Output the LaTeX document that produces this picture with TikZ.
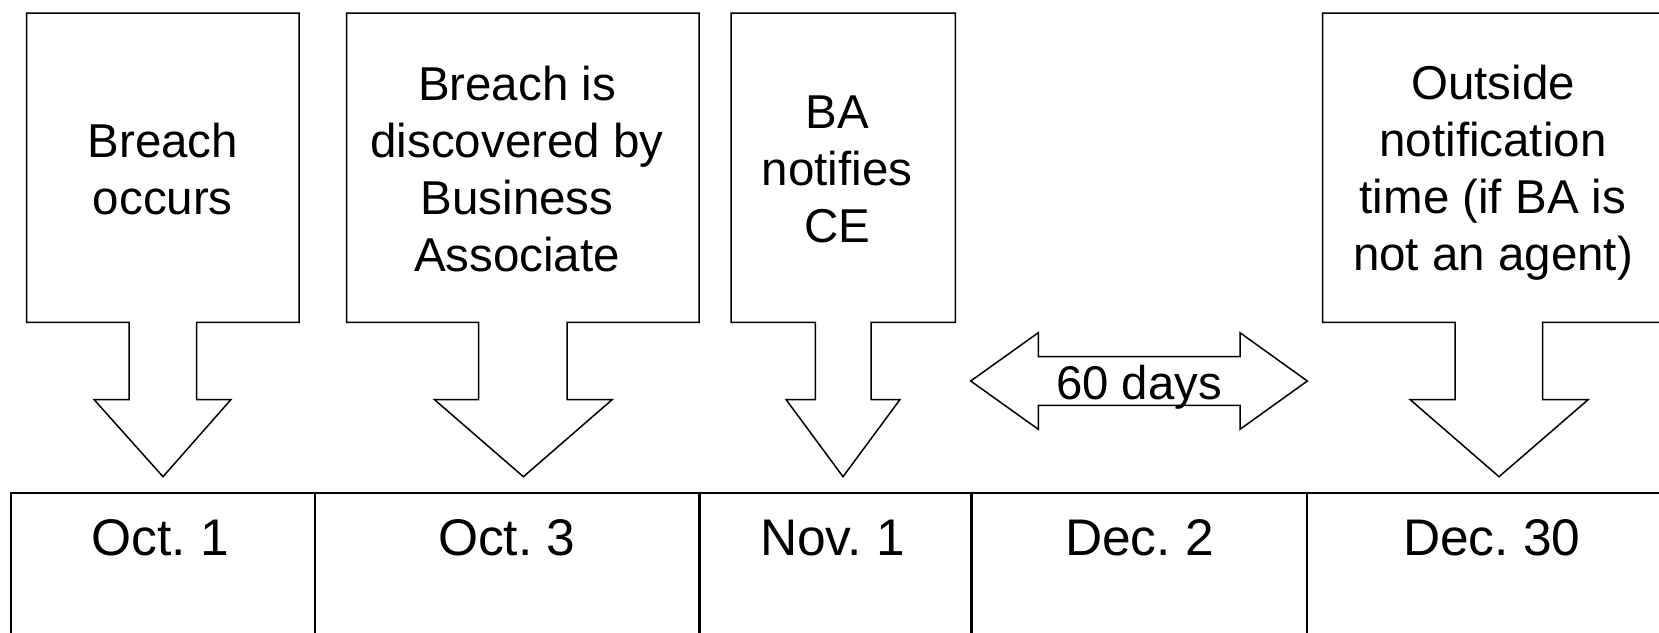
\documentclass[tikz,border=0pt]{standalone}
\usepackage{fontspec}
\setmainfont{Liberation Sans}
\frenchspacing
\begin{document}
\begin{tikzpicture}[x=1pt,y=-1pt,
  shapeline/.style={draw=black,line width=1.5pt,fill=white,line join=miter},
  cellline/.style={draw=black,line width=2.4pt},
  boxtext/.style={align=center,font=\fontsize{47.5}{57}\selectfont,inner sep=0pt,anchor=base},
  datetext/.style={font=\fontsize{51.5}{60}\selectfont,inner sep=0pt,anchor=base},
  daystext/.style={font=\fontsize{47.3}{57}\selectfont,inner sep=0pt,anchor=base}]
\useasboundingbox (0,0) rectangle (1659,632);
\clip (0,0) rectangle (1659,632);

% callout 1
\draw[shapeline] (26.7,13) -- (299,13) -- (299,322.3) -- (196.7,322.3) -- (196.7,399.5) -- (231,399.5)
  -- (163,476.7) coordinate (tip1) -- (94,399.5) -- (129,399.5) -- (129,322.3) -- (26.7,322.3) -- cycle;
\node[boxtext] (t1) at (162.8,214) {Breach\\occurs};

% callout 2
\draw[shapeline] (346.7,13) -- (699,13) -- (699,322.3) -- (567,322.3) -- (567,399.5) -- (612.3,399.5)
  -- (523.4,476.7) coordinate (tip2) -- (434.3,399.5) -- (478.7,399.5) -- (478.7,322.3) -- (346.7,322.3) -- cycle;
\node[boxtext] (t2) at (517,271) {Breach is\\discovered by\\Business\\Associate};

% callout 3
\draw[shapeline] (731,13) -- (955.3,13) -- (955.3,322.3) -- (871,322.3) -- (871,399.5) -- (900,399.5)
  -- (843,476.7) coordinate (tip3) -- (786,399.5) -- (815.3,399.5) -- (815.3,322.3) -- (731,322.3) -- cycle;
\node[boxtext] (t3) at (837,242.7) {BA\\notifies\\CE};

% callout 5
\draw[shapeline] (1322.7,13) -- (1675.3,13) -- (1675.3,322.3) -- (1542.7,322.3) -- (1542.7,399.5) -- (1588.3,399.5)
  -- (1499,476.7) coordinate (tip5) -- (1410,399.5) -- (1455,399.5) -- (1455,322.3) -- (1322.7,322.3) -- cycle;
\node[boxtext] (t5) at (1493,270) {Outside\\notification\\time (if BA is\\not an agent)};

% double arrow
\draw[shapeline] (970.7,381) coordinate (dl) -- (1038.3,332.7) -- (1038.3,356.7) -- (1240,356.7) -- (1240,332.7)
  -- (1307.3,381) coordinate (dr) -- (1240,429.3) -- (1240,405.3) -- (1038.3,405.3) -- (1038.3,429.3) -- cycle;
\node[daystext] (days) at (1139,399) {60 days};

% timeline table
\draw[cellline] (10.7,650) -- (10.7,492.7) -- (1680,492.7);
\foreach \xx in {315,699.3,971.5,1307.2} {\draw[cellline] (\xx,492.7) -- (\xx,650);}
\node[datetext] (d1) at (160.3,555) {Oct. 1};
\node[datetext] (d2) at (506.7,555) {Oct. 3};
\node[datetext] (d3) at (832.5,555) {Nov. 1};
\node[datetext] (d4) at (1139.5,555) {Dec. 2};
\node[datetext] (d5) at (1491.8,555) {Dec. 30};
\end{tikzpicture}
\end{document}
